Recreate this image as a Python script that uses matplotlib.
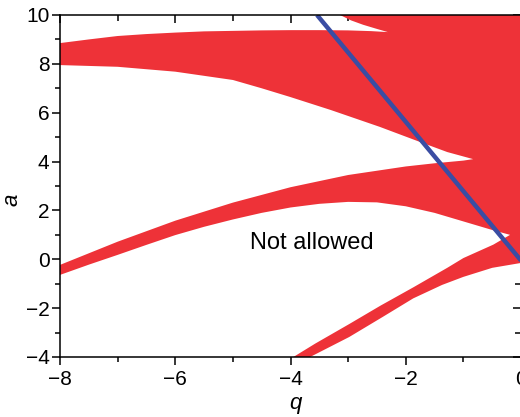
import numpy as np
import matplotlib
matplotlib.use("Agg")
import matplotlib.pyplot as plt
from matplotlib.path import Path
from matplotlib.patches import PathPatch
from matplotlib.ticker import MultipleLocator

plt.rcParams['font.family'] = ['Liberation Sans', 'DejaVu Sans']

# ---- axis ranges / ticks ----
XLIM = (-8, 0)
YLIM = (-4, 10)
XTICKS = [-8, -6, -4, -2, 0]
YTICKS = [-4, -2, 0, 2, 4, 6, 8, 10]

# ---- boundaries of the unstable (white) regions ----
# upper edge of the top red band (lower edge of top-left white region)
A_TOP_Q = [-8, -7.5, -7, -6.5, -6, -5.5, -5, -4.5, -4, -3.5, -3, -2.6, -2.31]
A_TOP_A = [8.85, 9.0, 9.14, 9.22, 9.28, 9.33, 9.35, 9.37, 9.38, 9.38, 9.37, 9.34, 9.30]
# lower edge of the red region entering from the top
C_LOW_Q = [-3.14, -2.95, -2.74, -2.5, -2.31]
C_LOW_A = [10.0, 9.78, 9.6, 9.43, 9.30]
# lower edge of the top red band
A_BOT_Q = [-8, -7, -6, -5, -4.5, -4, -3.3, -2.45, -1.75, -1.28, -0.83]
A_BOT_A = [7.95, 7.88, 7.68, 7.34, 7.0, 6.64, 6.11, 5.42, 4.8, 4.39, 4.1]
# upper edge of the middle red band
B_TOP_Q = [-8, -7, -6, -5, -4, -3, -2, -1.5, -1, -0.83]
B_TOP_A = [-0.23, 0.72, 1.58, 2.32, 2.95, 3.45, 3.8, 3.93, 4.04, 4.1]
# lower edge of the middle red band
B_BOT_Q = [-8, -7.5, -7, -6.5, -6, -5.5, -5, -4.5, -4, -3.5, -3, -2.5, -2,
           -1.5, -1, -0.5, -0.19]
B_BOT_A = [-0.64, -0.22, 0.18, 0.59, 0.99, 1.33, 1.63, 1.9, 2.12, 2.27, 2.35,
           2.33, 2.17, 1.9, 1.55, 1.2, 1.0]
# upper edge of the lower red band
D_TOP_Q = [-3.95, -3.57, -2.98, -2.44, -1.87, -1.28, -1.0, -0.48, -0.19]
D_TOP_A = [-4.0, -3.45, -2.65, -1.9, -1.15, -0.35, 0.05, 0.6, 1.0]
# lower edge of the lower red band
D_BOT_Q = [-3.66, -2.98, -2.4, -1.87, -1.37, -1.0, -0.5, 0]
D_BOT_A = [-4.0, -3.18, -2.36, -1.6, -1.05, -0.72, -0.35, -0.15]

# ---- straight line ----
LINE_Q = [-3.54, 0]
LINE_A = [10, -0.05]

LABEL_TEXT = "Not allowed"
LABEL_POS = (-3.63, 0.67)

RED = '#EE3238'
BLUE = '#3A4DA3'


def ring(x, y, ccw):
    x = np.asarray(x, float)
    y = np.asarray(y, float)
    area = 0.5 * np.sum(x * np.roll(y, -1) - np.roll(x, -1) * y)
    if (area > 0) != ccw:
        x, y = x[::-1], y[::-1]
    verts = np.column_stack([np.append(x, x[0]), np.append(y, y[0])])
    codes = [Path.MOVETO] + [Path.LINETO] * (len(x) - 1) + [Path.CLOSEPOLY]
    return verts, codes


fig = plt.figure(figsize=(5.2, 4.17), dpi=100)
ax = fig.add_axes([60 / 520, 60 / 417, 461 / 520, 342 / 417])
ax.set_xlim(*XLIM)
ax.set_ylim(*YLIM)

x0, x1 = XLIM
y0, y1 = YLIM
holes = []
# top-left white region
holes.append((np.r_[x0, A_TOP_Q, C_LOW_Q[::-1]],
              np.r_[y1, A_TOP_A, C_LOW_A[::-1]]))
# wedge between top and middle bands
holes.append((np.r_[A_BOT_Q, B_TOP_Q[::-1]],
              np.r_[A_BOT_A, B_TOP_A[::-1]]))
# "Not allowed" region
holes.append((np.r_[B_BOT_Q, D_TOP_Q[::-1], x0],
              np.r_[B_BOT_A, D_TOP_A[::-1], y0]))
# bottom-right white region
holes.append((np.r_[D_BOT_Q, x1], np.r_[D_BOT_A, y0]))

verts, codes = ring([x0 - 1, x1 + 1, x1 + 1, x0 - 1],
                    [y0 - 1, y0 - 1, y1 + 1, y1 + 1], True)
all_v = [verts]
all_c = list(codes)
for hx, hy in holes:
    v, c = ring(hx, hy, False)
    all_v.append(v)
    all_c += c
path = Path(np.vstack(all_v), all_c)
ax.add_patch(PathPatch(path, facecolor=RED, edgecolor='none', zorder=3))

ax.plot(LINE_Q, LINE_A, color=BLUE, lw=3.2, zorder=5, solid_capstyle='butt')

ax.text(*LABEL_POS, LABEL_TEXT, ha='center', va='center', fontsize=17, zorder=6)

# ticks
ax.set_xticks(XTICKS)
ax.set_yticks(YTICKS)
ax.xaxis.set_minor_locator(MultipleLocator(1))
ax.yaxis.set_minor_locator(MultipleLocator(1))
ax.tick_params(axis='both', which='major', direction='out', length=6, width=1.1,
               labelsize=15, top=False, right=False)
ax.tick_params(axis='both', which='minor', direction='out', length=3.5, width=1.1,
               top=False, right=False)
ax.tick_params(axis='x', which='major', pad=3.5)
ax.tick_params(axis='y', which='major', pad=1.5)

secx = ax.secondary_xaxis('top')
secx.set_xticks(XTICKS)
secx.xaxis.set_minor_locator(MultipleLocator(1))
secx.tick_params(which='major', direction='in', length=6, width=1.1, labeltop=False)
secx.tick_params(which='minor', direction='in', length=4, width=1.1)
secy = ax.secondary_yaxis('right')
secy.set_yticks(YTICKS)
secy.yaxis.set_minor_locator(MultipleLocator(1))
secy.tick_params(which='major', direction='in', length=6, width=1.1, labelright=False)
secy.tick_params(which='minor', direction='in', length=4, width=1.1)
for s in (secx, secy):
    for sp in s.spines.values():
        sp.set_visible(False)
    s.set_zorder(2)

for sp in ax.spines.values():
    sp.set_zorder(7)
    sp.set_linewidth(1.1)

ax.set_xlabel('q', fontsize=16, style='italic')
ax.xaxis.set_label_coords(0.51, -0.105)
ax.set_ylabel('a', fontsize=16, style='italic')
ax.yaxis.set_label_coords(-0.082, 0.46)

fig.savefig('out.png', dpi=100)
